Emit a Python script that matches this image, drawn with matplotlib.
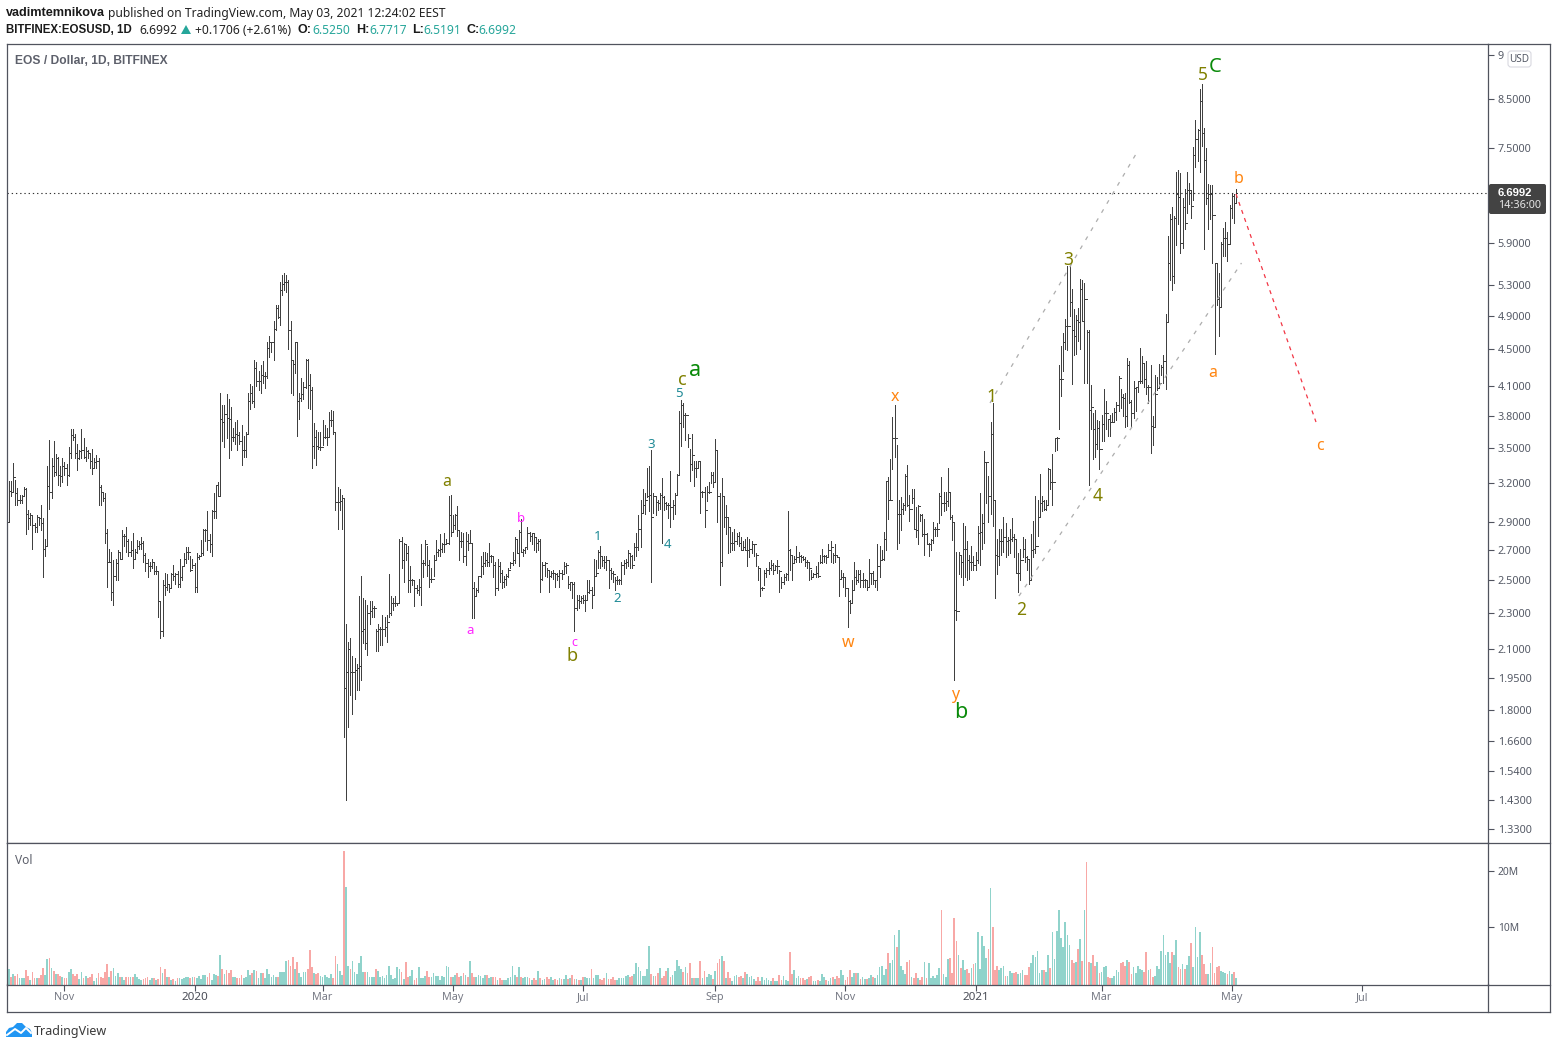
import datetime as dt
import numpy as np
import matplotlib
matplotlib.use("Agg")
import matplotlib.pyplot as plt
import matplotlib.dates as mdates
import matplotlib.ticker
from matplotlib.collections import LineCollection
from matplotlib.lines import Line2D
from matplotlib.patches import FancyBboxPatch, Polygon
from matplotlib.transforms import Affine2D

W, H = 1557, 1049
FONT = "Noto Sans"
BOLD_FONT = "Liberation Sans"
plt.rcParams["font.family"] = [FONT, "DejaVu Sans"]

highs_a = [
3.00,3.22,3.22,3.37,3.23,3.16,3.11,3.11,3.17,3.16,
2.99,2.97,2.95,2.89,2.95,2.94,3.03,2.93,2.78,3.34,
3.57,3.41,3.56,3.45,3.42,3.34,3.41,3.38,3.36,3.51,
3.67,3.67,3.63,3.54,3.48,3.67,3.59,3.51,3.48,3.46,
3.49,3.41,3.44,3.41,3.19,3.13,3.12,2.85,2.71,2.69,
2.63,2.64,2.70,2.69,2.84,2.81,2.86,2.78,2.76,2.82,
2.71,2.77,2.76,2.79,2.76,2.68,2.64,2.62,2.64,2.62,
2.59,2.56,2.37,2.50,2.55,2.54,2.48,2.55,2.60,2.55,
2.56,2.64,2.59,2.68,2.72,2.72,2.66,2.64,2.61,2.68,
2.67,2.77,2.85,2.85,2.98,2.81,2.99,3.12,3.19,3.21,
4.03,3.91,3.91,4.02,3.97,3.89,3.68,3.74,3.76,3.65,
3.71,3.61,3.65,4.03,4.12,4.10,4.38,4.36,4.26,4.32,
4.37,4.25,4.58,4.65,4.58,4.84,5.03,5.03,5.34,5.44,
5.46,5.44,5.36,4.84,4.38,4.58,4.58,4.03,4.18,4.14,
4.39,4.39,4.23,4.09,3.73,3.66,3.65,3.65,3.76,3.71,
3.68,3.84,3.86,3.85,3.65,3.17,3.15,3.11,3.08]
lows_a = [
2.85,2.90,3.10,3.13,3.03,3.03,3.04,3.04,3.10,2.81,
2.85,2.88,2.71,2.83,2.83,2.88,2.84,2.52,2.66,2.73,
3.00,3.08,3.26,3.27,3.19,3.18,3.21,3.27,3.19,3.26,
3.41,3.57,3.41,3.31,3.40,3.41,3.41,3.39,3.41,3.33,
3.28,3.33,3.33,3.03,3.03,3.06,2.75,2.46,2.62,2.38,
2.35,2.50,2.50,2.64,2.64,2.73,2.69,2.66,2.66,2.58,
2.64,2.68,2.71,2.71,2.62,2.56,2.52,2.56,2.58,2.54,
2.54,2.28,2.16,2.17,2.41,2.44,2.43,2.45,2.50,2.48,
2.46,2.46,2.50,2.59,2.61,2.64,2.56,2.58,2.43,2.43,
2.64,2.67,2.67,2.76,2.70,2.69,2.66,2.93,2.93,3.10,
3.10,3.56,3.51,3.59,3.41,3.48,3.56,3.54,3.48,3.54,
3.35,3.42,3.42,3.63,3.87,3.93,3.89,4.10,4.06,4.03,
4.13,4.08,4.18,4.41,4.47,4.38,4.73,4.87,4.79,5.16,
5.23,5.21,4.50,4.03,4.01,4.24,3.61,3.77,3.95,3.97,
4.08,3.88,3.87,3.33,3.41,3.35,3.49,3.48,3.53,3.59,
3.53,3.60,3.70,3.63,2.99,2.85,2.99,2.85,1.68]
closes_a = [
2.90,3.14,3.13,3.25,3.12,3.07,3.07,3.10,3.15,2.96,
2.93,2.95,2.88,2.86,2.94,2.93,2.89,2.71,2.73,3.18,
3.13,3.34,3.29,3.41,3.27,3.26,3.34,3.33,3.27,3.46,
3.62,3.60,3.46,3.41,3.47,3.48,3.42,3.47,3.46,3.39,
3.33,3.38,3.39,3.17,3.13,3.08,2.82,2.62,2.62,2.43,
2.53,2.61,2.69,2.64,2.80,2.80,2.76,2.69,2.70,2.64,
2.69,2.73,2.74,2.75,2.67,2.61,2.59,2.59,2.62,2.56,
2.56,2.37,2.20,2.47,2.46,2.48,2.45,2.54,2.53,2.54,
2.48,2.52,2.59,2.64,2.69,2.69,2.57,2.60,2.46,2.65,
2.66,2.68,2.84,2.84,2.77,2.74,2.98,2.98,3.19,3.10,
3.77,3.74,3.82,3.78,3.77,3.60,3.60,3.63,3.62,3.56,
3.48,3.48,3.63,3.95,4.03,3.95,4.29,4.15,4.15,4.22,
4.20,4.20,4.52,4.58,4.58,4.74,5.00,4.88,5.23,5.31,
5.34,5.34,4.72,4.38,4.33,4.58,3.95,3.98,4.02,4.09,
4.38,4.11,4.06,3.52,3.60,3.52,3.51,3.51,3.60,3.60,
3.60,3.76,3.76,3.65,3.05,3.05,3.06,3.08,1.90]

highs_b = [
2.24,2.14,2.16,2.06,2.05,2.02,2.40,2.53,2.39,2.38,
2.35,2.37,2.37,2.34,2.21,2.24,2.22,2.29,2.28,2.29,
2.54,2.40,2.39,2.40,2.36,2.78,2.79,2.75,2.74,2.73,
2.59,2.51,2.50,2.47,2.51,2.74,2.63,2.77,2.73,2.63,
2.58,2.67,2.77,2.71,2.81,2.75,2.82,2.78,3.10,3.11,
2.95,2.96,3.02,2.84,2.83,2.82,2.83,2.81,2.84,2.75,
2.49,2.45,2.53,2.66,2.69,2.69,2.68,2.75,2.67,2.66,
2.62,2.64,2.62,2.57,2.53,2.54,2.58,2.62,2.69,2.79,
2.78,2.84,2.92,2.71,2.72,2.86,2.83,2.82,2.81,2.79,
2.78,2.78,2.62,2.62,2.58,2.57,2.56,2.57,2.55,2.55,
2.57,2.57,2.62,2.61,2.53,2.49,2.49,2.49,2.41,2.41,
2.40,2.41,2.41,2.50,2.50,2.46,2.64,2.63,2.70,2.73,
2.66,2.66,2.66,2.63,2.58,2.56,2.52,2.53,2.51,2.62,
2.63,2.64,2.70,2.68,2.67,2.75,2.82,2.95,3.07,3.15,
3.12,3.33,3.34,3.48,3.12,3.10,3.07,3.12,3.24,3.10,
3.05,3.04,3.30,3.07,3.12,3.28,3.85,3.96,3.93,3.83,
3.63,3.49,3.63,3.39,3.39,3.39,3.39,3.14,3.17,3.18,
3.21,3.29,3.29,3.58,3.48,3.12,3.24,3.10,3.03,2.94,
2.86,2.83,2.85,2.82,2.83,2.79,2.76,2.78,2.79]
lows_b = [
1.43,1.72,1.87,1.78,1.85,1.89,1.89,1.94,2.13,2.10,
2.07,2.24,2.28,2.28,2.09,2.09,2.12,2.12,2.17,2.14,
2.28,2.29,2.32,2.34,2.35,2.36,2.58,2.49,2.63,2.43,
2.43,2.47,2.34,2.42,2.41,2.35,2.52,2.60,2.53,2.46,
2.49,2.53,2.64,2.66,2.66,2.69,2.69,2.74,2.74,2.80,
2.83,2.85,2.80,2.63,2.72,2.62,2.60,2.70,2.75,2.27,
2.27,2.40,2.43,2.52,2.54,2.59,2.59,2.59,2.62,2.52,
2.41,2.44,2.49,2.45,2.46,2.47,2.52,2.58,2.60,2.61,
2.68,2.59,2.69,2.66,2.68,2.71,2.76,2.74,2.70,2.69,
2.70,2.43,2.50,2.53,2.52,2.43,2.52,2.51,2.46,2.50,
2.46,2.51,2.54,2.55,2.45,2.44,2.39,2.20,2.32,2.33,
2.36,2.36,2.31,2.38,2.42,2.33,2.41,2.53,2.58,2.58,
2.59,2.58,2.57,2.45,2.51,2.49,2.44,2.48,2.48,2.48,
2.54,2.58,2.59,2.58,2.58,2.63,2.66,2.70,2.72,2.97,
2.96,3.09,2.98,2.49,2.97,2.95,2.99,3.00,2.75,2.99,
3.00,2.93,2.86,2.92,2.96,3.11,3.27,3.52,3.69,3.57,
3.51,3.22,3.31,3.18,3.25,3.33,2.97,3.09,2.86,3.06,
3.12,3.20,3.17,3.21,2.90,2.47,2.59,2.86,2.81,2.68,
2.69,2.70,2.70,2.74,2.73,2.70,2.71,2.70,2.59]
closes_b = [
1.98,2.10,1.98,1.98,1.99,2.00,2.01,2.20,2.21,2.13,
2.30,2.31,2.33,2.33,2.20,2.21,2.21,2.21,2.22,2.25,
2.30,2.36,2.36,2.36,2.36,2.76,2.63,2.74,2.68,2.50,
2.50,2.50,2.45,2.44,2.46,2.61,2.61,2.74,2.60,2.51,
2.51,2.63,2.69,2.70,2.71,2.74,2.74,2.75,2.95,2.83,
2.88,2.95,2.84,2.76,2.76,2.66,2.76,2.75,2.75,2.45,
2.40,2.44,2.53,2.59,2.61,2.63,2.62,2.66,2.66,2.60,
2.45,2.59,2.55,2.49,2.51,2.53,2.57,2.61,2.63,2.78,
2.68,2.83,2.69,2.70,2.72,2.82,2.80,2.82,2.79,2.75,
2.76,2.51,2.60,2.61,2.57,2.53,2.55,2.55,2.54,2.53,
2.55,2.54,2.59,2.60,2.48,2.49,2.48,2.33,2.38,2.37,
2.39,2.38,2.38,2.43,2.44,2.41,2.53,2.55,2.69,2.66,
2.63,2.62,2.63,2.57,2.55,2.54,2.50,2.50,2.50,2.60,
2.61,2.62,2.68,2.66,2.60,2.72,2.72,2.85,2.97,3.03,
3.07,3.10,3.11,2.94,3.10,3.05,3.04,3.11,3.09,3.04,
3.03,3.03,3.01,3.03,3.11,3.27,3.73,3.91,3.81,3.81,
3.59,3.36,3.44,3.33,3.33,3.39,3.13,3.13,2.99,3.13,
3.13,3.27,3.21,3.48,3.10,2.62,3.10,2.94,2.94,2.86,
2.75,2.75,2.76,2.80,2.75,2.70,2.72,2.70,2.70]

highs_c = [
2.78,2.76,2.74,2.68,2.59,2.58,2.46,2.57,2.58,2.62,
2.63,2.61,2.60,2.63,2.57,2.52,2.54,2.55,2.98,2.71,
2.66,2.66,2.73,2.69,2.67,2.66,2.65,2.63,2.62,2.57,
2.55,2.59,2.62,2.67,2.71,2.67,2.67,2.74,2.76,2.68,
2.74,2.67,2.65,2.57,2.55,2.52,2.45,2.38,2.50,2.62,
2.57,2.57,2.57,2.55,2.51,2.50,2.64,2.55,2.56,2.50,
2.74,2.73,2.70,2.83,3.22,3.25,3.40,3.79,3.91,3.53,
3.07,3.09,3.04,3.28,3.35,3.11,3.15,3.15,3.01,3.03,
2.96,2.96,2.92,2.82,2.75,2.78,2.90,2.86,2.89,3.12,
3.25,3.13,3.13,3.33,3.13,2.95,2.90,2.69,2.69,2.67,
2.89,2.87,2.76,2.67,2.73,2.66,2.69,2.87,3.12,2.96,
3.47,3.38,3.26,3.74,3.93,3.07,2.78,2.85,2.85,2.94,
2.89,2.79,2.85,2.93,2.81,2.78,2.68,2.71,2.79,2.78,
2.66,2.64,2.81,2.91,3.10,3.07,3.28,3.10,3.07,3.07,
3.33,3.31,3.45,3.59,3.60]
lows_c = [
2.65,2.68,2.66,2.59,2.50,2.40,2.44,2.47,2.52,2.54,
2.57,2.54,2.57,2.55,2.43,2.45,2.48,2.50,2.50,2.57,
2.50,2.62,2.62,2.62,2.62,2.63,2.59,2.58,2.50,2.51,
2.52,2.52,2.52,2.61,2.61,2.62,2.61,2.65,2.62,2.61,
2.62,2.65,2.40,2.51,2.46,2.40,2.22,2.30,2.36,2.44,
2.48,2.49,2.46,2.46,2.46,2.44,2.46,2.48,2.48,2.46,
2.44,2.52,2.63,2.63,2.70,2.92,3.07,3.32,3.42,2.71,
2.75,2.84,2.96,2.99,3.02,2.91,3.04,2.85,2.79,2.74,
2.91,2.80,2.67,2.74,2.66,2.70,2.75,2.80,2.80,2.89,
2.95,2.98,2.99,3.02,2.92,2.77,1.94,2.26,2.54,2.52,
2.47,2.52,2.50,2.51,2.57,2.57,2.57,2.61,2.60,2.71,
2.75,3.04,2.90,2.96,2.87,2.39,2.54,2.60,2.67,2.69,
2.65,2.67,2.68,2.76,2.65,2.55,2.43,2.50,2.65,2.62,
2.57,2.48,2.50,2.65,2.68,2.80,2.94,2.98,2.99,2.99,
3.03,3.15,3.03,3.47,3.48]
closes_c = [
2.71,2.74,2.74,2.67,2.58,2.45,2.45,2.55,2.57,2.58,
2.60,2.57,2.59,2.59,2.56,2.49,2.52,2.54,2.70,2.67,
2.61,2.64,2.65,2.66,2.65,2.64,2.62,2.62,2.58,2.52,
2.54,2.55,2.53,2.62,2.66,2.66,2.65,2.70,2.72,2.67,
2.67,2.65,2.51,2.52,2.52,2.45,2.37,2.36,2.44,2.52,
2.50,2.54,2.50,2.50,2.50,2.46,2.55,2.55,2.50,2.50,
2.59,2.63,2.64,2.78,3.22,3.07,3.07,3.59,3.59,2.96,
2.96,3.00,3.03,3.26,3.03,3.00,3.08,2.85,2.84,3.02,
2.95,2.81,2.81,2.74,2.74,2.77,2.85,2.85,2.85,3.10,
3.04,3.04,3.06,3.13,2.94,2.90,2.32,2.31,2.67,2.62,
2.71,2.71,2.63,2.62,2.62,2.60,2.63,2.82,2.83,2.89,
3.38,3.38,3.10,3.63,3.07,2.67,2.66,2.76,2.76,2.79,
2.76,2.77,2.78,2.79,2.78,2.55,2.55,2.63,2.71,2.65,
2.64,2.50,2.70,2.71,2.73,2.94,3.04,3.06,3.00,3.03,
3.32,3.21,3.21,3.59,3.59]

highs_d = [
4.32,4.54,4.69,4.86,5.56,5.57,5.25,4.99,4.91,5.00,
5.38,5.37,5.32,4.72,4.72,4.11,3.83,3.86,3.76,3.75,
3.81,4.07,3.95,3.77,3.81,3.83,3.88,3.94,4.20,4.07,
4.02,4.03,4.40,4.37,3.96,4.15,4.09,4.15,4.51,4.42,
4.35,4.37,4.11,4.32,3.80,4.22,4.19,4.33,4.32,4.44,
4.92,6.00,6.34,6.46,6.31,7.07,7.10,7.05,6.61,6.76,
7.07,6.87,6.75,7.53,8.06,7.88,8.73,8.83,7.90,7.50,
6.85,6.83,6.83,5.60,5.60,5.46,5.91,6.12,6.22,6.07,
6.49,6.67,6.67,6.7717]
lows_d = [
3.67,4.00,4.26,4.50,4.49,4.90,4.12,4.44,4.45,4.59,
4.50,4.84,4.13,4.13,3.19,3.67,3.40,3.42,3.49,3.32,
3.56,3.56,3.67,3.61,3.61,3.74,3.74,3.76,3.85,3.88,
3.80,3.69,3.70,3.93,3.70,3.78,3.85,4.04,4.13,4.13,
4.09,4.02,3.93,3.46,3.53,3.69,4.06,4.08,4.22,4.13,
4.07,4.82,5.37,5.23,5.33,5.87,6.19,5.75,5.82,6.11,
6.37,6.51,6.28,6.58,7.16,7.26,7.07,7.54,5.80,6.51,
6.11,6.26,5.60,4.45,5.03,4.66,5.01,5.70,5.70,5.63,
5.88,6.28,6.20,6.5191]
closes_d = [
4.17,4.17,4.58,4.78,4.78,5.08,4.72,4.66,4.85,4.82,
5.24,4.84,5.11,4.70,3.86,3.89,3.67,3.54,3.68,3.49,
3.72,3.83,3.83,3.77,3.74,3.74,3.84,3.91,4.18,3.99,
3.98,3.80,4.32,3.94,3.83,4.08,4.09,4.15,4.15,4.35,
4.17,4.09,4.09,3.70,3.69,4.02,4.08,4.13,4.30,4.37,
4.82,5.61,6.26,5.42,6.29,6.67,6.63,5.90,6.46,6.20,
6.75,6.75,6.48,7.38,7.69,7.86,8.47,7.79,7.29,6.61,
6.67,6.68,6.33,5.60,5.11,5.01,5.88,5.97,5.97,5.88,
6.44,6.65,6.53,6.6992]

# volume in millions
vol_a = [
1.4,2.4,1.0,1.5,1.2,1.5,.8,.7,.8,2.2,
1.2,.5,1.9,.8,.8,.8,1.4,2.6,1.3,4.2,
4.4,2.6,2.1,1.5,1.5,1.2,1.0,.8,.8,1.9,
2.4,1.5,1.2,1.5,.6,1.9,.8,1.2,.7,1.0,
1.5,.3,.8,1.7,1.0,.7,1.9,3.3,1.0,2.1,
2.6,1.2,1.7,.9,1.0,.4,1.0,1.0,1.0,1.0,
1.5,1.0,.6,.4,.6,.7,.9,.5,.8,.8,
.5,.6,2.7,1.7,2.4,1.0,.9,.4,.6,.2,
.8,.8,.6,.7,.9,.9,.7,.9,.9,.7,
1.2,.6,1.3,1.3,.9,1.6,.5,1.5,1.3,1.2,
4.9,2.4,1.5,2.2,1.7,2.2,1.0,1.0,.7,.7,
1.4,.8,1.0,2.2,1.4,1.6,2.2,2.0,.8,1.7,
1.7,.8,2.4,1.5,1.0,1.4,1.0,1.0,1.8,1.8,
1.8,3.8,4.1,2.9,4.6,2.4,3.6,1.6,1.0,1.8,
1.8,2.4,5.8,2.7,1.7,1.5,1.6,1.2,1.0,1.3,
1.0,.8,1.5,.8,4.7,3.3,2.0,1.3]
vol_b = [
23.7,17.2,
2.9,2.4,3.8,1.8,1.5,3.4,4.7,1.8,1.9,1.9,
1.0,.9,.9,2.4,2.1,.9,1.1,.7,1.3,2.9,
1.3,.6,.7,2.7,2.4,1.8,.6,3.7,1.0,1.2,
2.2,.5,.7,2.7,.7,.7,1.2,2.0,.9,1.0,
1.6,1.2,1.2,.5,1.2,.9,2.9,2.7,1.0,.9,
1.3,1.6,.9,1.2,1.6,1.3,.9,3.8,1.6,1.0,
.9,1.3,1.2,.8,1.3,1.3,.8,.9,.9,.9,
.4,.7,.5,.5,.5,.7,.9,2.9,1.3,.9,
2.7,.9]
vol_c = [
.7,.9,.9,.7,.4,.8,.5,2.0,.8,
.5,.6,.9,.6,.9,.5,.6,.5,.8,.6,
.6,1.3,.6,.7,1.3,.6,.6,.4,.4,.9,
.9,.7,.7,2.4,.7,1.3,1.3,.6,.4,.7,
1.7,.6,.6,.9,.5,.4,.7,.7,.7,1.1,
1.3,.9,1.1,1.5,3.5,2.7,2.0,1.1,1.1,2.4,
6.6,1.5,1.1,1.1,1.6,2.6,.7,1.1,2.0,2.6,
.9,1.3,2.0,4.0,3.0,2.4,1.9,2.8,1.7,3.5,
.7,.7,.7,.7,3.8,.7,2.0,.9,1.5,1.3,.6,
2.0,3.5,4.2,4.7,3.8,.7,1.8,.7,.3,1.1,
1.3,1.0,1.1,.7,1.8,1.5,.9,1.1,.6,.3,
.9,.3,.9,.5,.7,.5,.3,.7,.3,.3,
1.3,.5,1.1,.4,.3,5.5,1.5,2.2,.7,1.1,
.7,.7,.4,.6,1.0,1.1,.3,.3,.5,.3,
1.5,.9,.5,.2,.7,.9,.6,1.1,.7,2.2,
1.3,.5,.9,2.2,.9,1.6,1.6,1.6,.6,.9,
.6,.6,.8,1.3,.9,.7,1.3,2.7,2.9,1.3,
2.4,5.2,3.5,4.0,8.6,6.4,9.5,2.9,2.2,1.5,
3.7,4.0,.9,.7,1.6,.7,.5]
vol_d = [
.9,3.7,.7,3.4,.7,1.1,.7,1.3,2.6,13.1,1.5,
.9,4.2,4.4,1.7,11.6,7.5,5.0,2.6,4.0,2.2,
2.4,1.7,2.6,3.3,3.4,9.0,2.4,8.4,6.5,4.4,
6.0,17.0,9.9,2.2,2.9,2.2,2.6,2.9,1.2,1.2,
2.0,1.7,1.7,1.8,1.5,1.6,2.2,1.3,1.3,2.7,
3.4,5.0,4.6,5.7,1.7,2.2,2.2,1.8,5.0,2.6,9.0,
4.2,9.2,13.0,7.9,6.3,10.9,8.5,6.7,4.0,3.4,3.6,
6.0,7.8,3.8,13.0,21.6,3.6,3.4,5.0,3.0,3.7,
1.6,1.8,2.7,2.9,.9,.8,.7,1.2,2.2,1.9,3.4,
3.6,2.9,4.0,3.7,1.5,2.7,1.6,3.0,2.4,2.2,
1.8,5.5,2.2,2.4,.9,1.2,2.9,2.4,5.6,8.6,
5.0,5.4,3.4,5.4,5.0,7.7,2.7,2.4,3.3,2.4,
3.1,4.8,7.1,2.7,10.0,4.6,9.1,4.9,3.3,1.5,1.5,
3.4,6.4,1.6,2.7,2.9,2.0,1.8,1.6,1.5,2.0,1.5,
1.8,.7]

first_open = 2.92
last_open = 6.5250
last_date = dt.date(2021, 5, 3)
last_price = 6.6992

price_ticks = [1.33,1.43,1.54,1.66,1.80,1.95,2.10,2.30,2.50,2.70,2.90,3.20,3.50,3.80,4.10,4.50,4.90,5.30,5.90,7.50,8.50,9.50]
vol_ticks = [10, 20]
vol_tick_labels = ["10M", "20M"]
time_ticks = [(2019,11,1),(2020,1,1),(2020,3,1),(2020,5,1),(2020,7,1),(2020,9,1),(2020,11,1),(2021,1,1),(2021,3,1),(2021,5,1),(2021,7,1)]
time_labels = ["Nov","2020","Mar","May","Jul","Sep","Nov","2021","Mar","May","Jul"]

highs = np.array(highs_a + highs_b + highs_c + highs_d)
lows = np.array(lows_a + lows_b + lows_c + lows_d)
closes = np.array(closes_a + closes_b + closes_c + closes_d)
opens = np.concatenate([[first_open], closes[:-1]])
opens[-1] = last_open
volumes = np.array(vol_a + vol_b + vol_c + vol_d)
n = len(closes)
assert len(volumes) == n, (len(volumes), n)

last_x = mdates.date2num(last_date)
xs = last_x - np.arange(n)[::-1]

fig = plt.figure(figsize=(W / 100, H / 100), dpi=100, facecolor="white")
px = Affine2D().scale(1, -1).translate(0, H)


def pane(l, t, r, b):
    return fig.add_axes([l / W, 1 - b / H, (r - l) / W, (b - t) / H])


FRAME = "#50535e"
TXT = "#555a66"
ax = pane(7, 44, 1488, 843)
av = pane(7, 843, 1488, 984.5)
xlim = (last_x - 575.9, last_x + 118.1)
for a in (ax, av):
    a.set_xlim(*xlim)
    for s in a.spines.values():
        s.set_color(FRAME)
        s.set_linewidth(0.9)
    a.yaxis.tick_right()

ax.set_yscale("log")
ax.set_ylim(1.282, 9.78)
ax.set_yticks(price_ticks)
ax.set_yticklabels(["9" if v == 9.5 else f"{v:.4f}" for v in price_ticks])
ax.yaxis.set_minor_locator(matplotlib.ticker.NullLocator())
ax.set_xticks([])
ax.tick_params(axis="y", length=4, width=0.8, color=FRAME, labelsize=7.8, labelcolor=TXT, pad=3)

segs = []
for x, o, h, l, c in zip(xs, opens, highs, lows, closes):
    segs.append([(x, l), (x, h)])
    segs.append([(x - 0.55, o), (x, o)])
    segs.append([(x, c), (x + 0.55, c)])
ax.add_collection(LineCollection(segs, colors="#404040", linewidths=0.7, antialiaseds=False, capstyle="butt"))
ax.axhline(last_price, color="#333333", lw=0.8, ls=(0, (1.2, 2.6)))

up = closes >= opens
av.bar(xs[up], volumes[up] + 0.4, bottom=-0.4, width=0.8, color="#90d3cb", lw=0)
av.bar(xs[~up], volumes[~up] + 0.4, bottom=-0.4, width=0.8, color="#f8a8a6", lw=0)
av.set_ylim(-0.4, 25.1)
av.set_yticks(vol_ticks)
av.set_yticklabels(vol_tick_labels)
av.tick_params(axis="y", length=4, width=0.8, color=FRAME, labelsize=7.4, labelcolor=TXT, pad=3)
av.set_xticks([mdates.date2num(dt.date(*d)) for d in time_ticks])
av.set_xticklabels(time_labels)
av.tick_params(axis="x", length=4, width=0.8, color=FRAME, labelsize=7.8, labelcolor="#777a85", pad=1.5)
for lab, t in zip(av.get_xticklabels(), time_labels):
    if t.startswith("20"):
        lab.set_color("#4a4d57")
        lab.set_fontsize(8.4)


def add(artist):
    artist.set_transform(px)
    artist.set_clip_on(False)
    fig.add_artist(artist)
    return artist


def T(x, y, s, size=8.7, color="#222222", bold=False, ha="left", va="center"):
    if bold:
        return fig.text(x / W, 1 - (y + 1) / H, s, fontsize=size, color=color, fontweight="bold",
                        family=BOLD_FONT, ha=ha, va=va)
    return fig.text(x / W, 1 - (y + 1) / H, s, fontsize=size, color=color, ha=ha, va=va)


for seg in [((7, 1012), (1550, 1012)), ((1550, 44), (1550, 1012)), ((7, 984), (7, 1012)),
            ((1488, 984), (1488, 1012)), ((1488, 44), (1550, 44)), ((1488, 843), (1550, 843)),
            ((1488, 984.5), (1550, 984.5))]:
    add(Line2D([seg[0][0], seg[1][0]], [seg[0][1], seg[1][1]], color=FRAME, lw=0.9))

TEAL = "#26a69a"
T(6, 12, "vadimtemnikova", bold=True, color="#1a1a1a", size=9.1)
T(108, 12, "published on TradingView.com, May 03, 2021 12:24:02 EEST")
T(6, 29, "BITFINEX:EOSUSD, 1D", bold=True, color="#1a1a1a", size=8.3)
T(139, 29, "6.6992")
add(Polygon([(181, 34), (191, 34), (186, 25)], closed=True, color=TEAL, lw=0))
T(195, 29, "+0.1706 (+2.61%)")
for x, s in [(298, "O:"), (356, "H:"), (412, "L:"), (466, "C:")]:
    T(x, 29, s, bold=True, color="#1a1a1a", size=9)
for x, s in [(312, "6.5250"), (369, "6.7717"), (423, "6.5191"), (478, "6.6992")]:
    T(x, 29, s, color=TEAL)
T(15, 60, "EOS / Dollar, 1D, BITFINEX", bold=True, color="#5d606b", size=8.65)
T(15, 860, "Vol", color="#5d606b", size=8.6)

add(FancyBboxPatch((1508, 51), 23, 16, boxstyle="round,pad=0,rounding_size=3", fc="white", ec="#d8d8e0", lw=0.8))
T(1519.5, 58, "USD", color="#555a66", size=7.2, ha="center")
add(FancyBboxPatch((1489, 184), 57, 30, boxstyle="round,pad=0,rounding_size=2", fc="#434343", ec="none"))
T(1498, 192, "6.6992", color="white", bold=True, size=8.2)
T(1498, 205, "14:36:00", color="#e6e6e6", size=7.8)

add(Line2D([990, 1136], [403, 154], color="#adadad", lw=0.9, ls=(0, (3.2, 5.2))))
add(Line2D([1019, 1241.5], [596, 263], color="#adadad", lw=0.9, ls=(0, (3.2, 5.2))))
add(Line2D([1236, 1316], [194, 422], color="#f23645", lw=0.9, ls=(0, (3.2, 3.6))))

OLIVE, GREEN, MAG, WTEAL, ORANGE = "#808000", "#0a8a0a", "#ff26ff", "#1f8a96", "#ff8510"
labels = [
    (447, 481, "a", OLIVE, 11.5), (572, 655, "b", OLIVE, 13), (682, 379, "c", OLIVE, 13),
    (991, 396, "1", OLIVE, 12.5), (1021, 609, "2", OLIVE, 12.5), (1068, 259, "3", OLIVE, 12.5),
    (1098, 495, "4", OLIVE, 12.5), (1203, 74, "5", OLIVE, 12.5),
    (695, 370, "a", GREEN, 15.5), (961, 712, "b", GREEN, 15.5), (1215, 66, "C", GREEN, 14.5),
    (470, 630, "a", MAG, 9.5), (521, 517, "b", MAG, 9.5), (574, 641, "c", MAG, 9),
    (598, 536, "1", WTEAL, 9.5), (617, 598, "2", WTEAL, 9.5), (651, 443, "3", WTEAL, 9.5),
    (668, 543, "4", WTEAL, 9.5), (679, 392, "5", WTEAL, 9.5),
    (848, 642, "w", ORANGE, 11.5), (895, 396, "x", ORANGE, 11.5), (955, 694, "y", ORANGE, 11.5),
    (1213, 372, "a", ORANGE, 11.5), (1239, 178, "b", ORANGE, 11.5), (1320, 445, "c", ORANGE, 11.5),
]
for x, y, s, c, sz in labels:
    T(x, y, s, color=c, size=sz, ha="center")

BLUE = "#2196f3"
add(Polygon([(6, 1037), (6, 1032), (9, 1028), (13, 1027), (17, 1023), (22, 1023), (26, 1027),
             (30, 1029), (32, 1033), (32, 1037)], closed=True, color=BLUE, lw=0))
add(Line2D([7, 15, 21, 26, 31], [1035, 1029, 1033, 1028, 1033], color="white", lw=1.4))
T(34, 1030, "TradingView", color="#3a3a3a", size=9)

fig.savefig("out.png", dpi=100, facecolor="white")
